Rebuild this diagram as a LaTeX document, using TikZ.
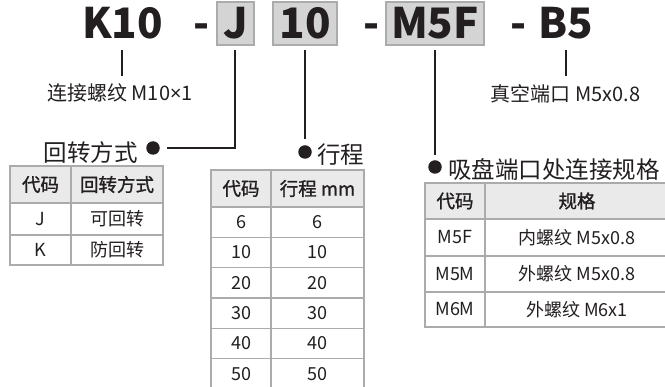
\documentclass[tikz,border=0pt]{standalone}
\usepackage{fontspec}
\setmainfont{Noto Sans CJK SC}
\newfontfamily\medfont{Noto Sans CJK SC}[FakeBold=1.2]
\newfontfamily\latinfont{Noto Sans}
\newcommand{\tms}{{\latinfont ×}}
\definecolor{ink}{HTML}{231F20}
\definecolor{grid}{HTML}{ABABAB}
\definecolor{boxfill}{HTML}{D4D4D4}
\definecolor{headfill}{HTML}{EAEAEA}
\tikzset{
  code/.style={font=\fontsize{42}{42}\selectfont\bfseries, inner sep=0pt, text=ink},
  codebox/.style={draw=grid, fill=boxfill, line width=1.3pt, inner sep=0pt},
  lbl/.style={font=\fontsize{20}{20}\selectfont, inner sep=0pt, text=ink},
  ttl/.style={font=\fontsize{23.5}{24}\selectfont, inner sep=0pt, text=ink},
  conn/.style={draw=ink, line width=1.1pt},
  dot/.style={circle, fill=ink, inner sep=0pt, minimum size=13.5pt},
  cell/.style={draw=grid, line width=1.3pt, inner sep=0pt, text=ink, font=\fontsize{18}{18}\selectfont},
  hcell/.style={cell, fill=headfill, font=\fontsize{18.5}{18.5}\selectfont\medfont}
}
\begin{document}
\begin{tikzpicture}[x=1pt,y=-1pt]
\useasboundingbox (0,0) rectangle (665,387);
\clip (0,0) rectangle (665,387);
% code boxes
\node[codebox, minimum width=37pt, minimum height=43pt] (jbox) at (235.5,23.5) {};
\node[codebox, minimum width=64pt, minimum height=43pt] (sbox) at (305,23.5) {};
\node[codebox, minimum width=98pt, minimum height=43pt] (mbox) at (435,23.5) {};
% code texts
\node[code, anchor=base] (k10) at (122.5,39) {K10};
\node[code, anchor=base] (d1) at (201.5,39) {-};
\node[code, anchor=base] (j) at (235.5,39) {J};
\node[code, anchor=base] (s10) at (305,39) {10};
\node[code, anchor=base] (d2) at (371.5,39) {-};
\node[code, anchor=base] (m5f) at (435,39) {M5F};
\node[code, anchor=base] (d3) at (519,39) {-};
\node[code, anchor=base] (b5) at (566,39) {B5};
% labels
\node[lbl] (lk) at (120,93) {连接螺纹 M10\tms1};
\node[lbl] (lb) at (565.5,94) {真空端口 M5x0.8};
\node[ttl, anchor=east] (tj) at (138,153) {回转方式};
\node[ttl, anchor=west] (ts) at (317,155) {行程};
\node[ttl, anchor=west] (tm) at (448,169) {吸盘端口处连接规格};
% bullets
\node[dot] (bj) at (153,148) {};
\node[dot] (bs) at (305,152) {};
\node[dot] (bm) at (435,167) {};
% connector coordinates
\coordinate (k1) at (122,50); \coordinate (k2) at (122,76);
\coordinate (b1) at (566,50); \coordinate (b2) at (566,76);
\coordinate (j1) at (235,50); \coordinate (j2) at (235,148); \coordinate (j3) at (167,148);
\coordinate (s1) at (305,50); \coordinate (s2) at (305,139);
\coordinate (m1) at (435,50); \coordinate (m2) at (435,155);
\draw[conn] (k1) -- (k2);
\draw[conn] (b1) -- (b2);
\draw[conn] (j1) -- (j2) -- (j3);
\draw[conn] (s1) -- (s2);
\draw[conn] (m1) -- (m2);
% table 1
\node[hcell, minimum width=61pt, minimum height=37pt] (t1h1) at (40.5,184.5) {代码};
\node[hcell, minimum width=92pt, minimum height=37pt] (t1h2) at (117,184.5) {回转方式};
\node[cell, minimum width=61pt, minimum height=32pt] (t1a1) at (40.5,219) {J};
\node[cell, minimum width=92pt, minimum height=32pt] (t1a2) at (117,219) {可回转};
\node[cell, minimum width=61pt, minimum height=30pt] (t1b1) at (40.5,250) {K};
\node[cell, minimum width=92pt, minimum height=30pt] (t1b2) at (117,250) {防回转};
% table 2
\node[hcell, minimum width=60pt, minimum height=37pt] (t2h1) at (241,188.5) {代码};
\node[hcell, minimum width=93pt, minimum height=37pt] (t2h2) at (317.5,188.5) {行程 mm};
\foreach \v [count=\i from 0] in {6,10,20,30,40,50} {
  \node[cell, minimum width=60pt, minimum height=30.33pt] (t2r\i a) at (241,{207+30.33*(\i+0.5)}) {\v};
  \node[cell, minimum width=93pt, minimum height=30.33pt] (t2r\i b) at (317.5,{207+30.33*(\i+0.5)}) {\v};
}
% table 3
\node[hcell, minimum width=60pt, minimum height=36pt] (t3h1) at (455,201) {代码};
\node[hcell, minimum width=184pt, minimum height=36pt] (t3h2) at (577,201) {规格};
\node[cell, minimum width=60pt, minimum height=37pt] (t3a1) at (455,237.5) {M5F};
\node[cell, minimum width=184pt, minimum height=37pt] (t3a2) at (577,237.5) {内螺纹 M5x0.8};
\node[cell, minimum width=60pt, minimum height=36pt] (t3b1) at (455,274) {M5M};
\node[cell, minimum width=184pt, minimum height=36pt] (t3b2) at (577,274) {外螺纹 M5x0.8};
\node[cell, minimum width=60pt, minimum height=35pt] (t3c1) at (455,309.5) {M6M};
\node[cell, minimum width=184pt, minimum height=35pt] (t3c2) at (577,309.5) {外螺纹 M6x1};
\end{tikzpicture}
\end{document}
